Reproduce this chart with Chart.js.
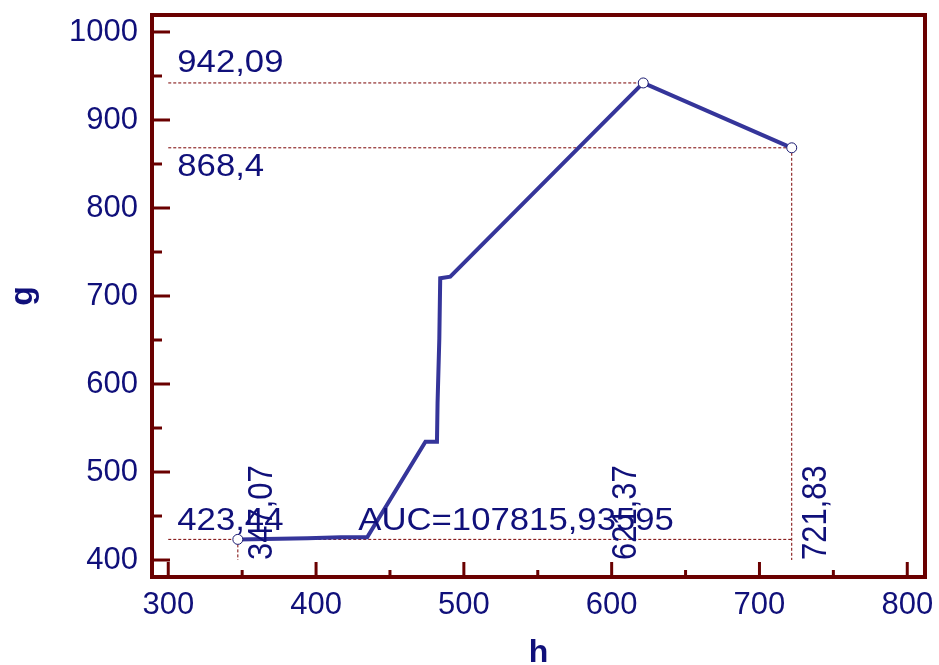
<!DOCTYPE html>
<html>
<head>
<meta charset="utf-8">
<script src="https://cdn.jsdelivr.net/npm/chart.js@4/dist/chart.umd.min.js"></script>
<style>
  html, body { margin: 0; padding: 0; background: #fff; }
  #wrap { width: 939px; height: 665px; }
</style>
</head>
<body>
<div id="wrap"><canvas id="chart" width="939" height="665"></canvas></div>
<script>
// curve (h -> g)
const hValues = [347.07, 394.2, 416.7, 434.6, 474.0, 481.8, 482.2, 483.4, 484.0, 490.8, 621.37, 721.83];
const gValues = [423.44, 424.7, 425.8, 425.8, 534.4, 534.4, 578.1, 651.9, 720.1, 721.9, 942.09, 868.4];

// marked points (start, max, end)
const markH = [347.07, 621.37, 721.83];
const markG = [423.44, 942.09, 868.4];
const markHLabels = ['347,07', '621,37', '721,83'];
const markGLabels = ['423,44', '942,09', '868,4'];
const aucLabel = 'AUC=107815,93595';

// axis ticks
const xTicks = [300, 400, 500, 600, 700, 800];
const yTicks = [400, 500, 600, 700, 800, 900, 1000];

const navy = '#10107a';
const lineBlue = '#35359a';
const maroon = '#6a0000';
const dotRed = '#7a0000';
const fontFamily = "'Liberation Sans', Arial, sans-serif";

const pts = (xs, ys) => xs.map((x, i) => ({ x: x, y: ys[i] }));

// dotted guide lines from the first major ticks to the marked points
const guideStyle = {
    borderColor: dotRed,
    borderWidth: 1,
    borderDash: [3, 2],
    pointRadius: 0,
    showLine: true,
    order: 3
};
const guides = [
    pts([xTicks[0], markH[1]], [markG[1], markG[1]]),
    pts([xTicks[0], markH[2]], [markG[2], markG[2]]),
    pts([xTicks[0], markH[2]], [markG[0], markG[0]]),
    pts([markH[2], markH[2]], [markG[2], yTicks[0]]),
    pts([markH[0], markH[0]], [markG[0], yTicks[0]])
].map(d => Object.assign({ data: d }, guideStyle));

// text in the source image is a little wider than the font
const stretch = 1.12;
const label = (ctx, text, px, py, rotate) => {
    ctx.save();
    ctx.translate(px, py);
    ctx.scale(stretch, 1);
    if (rotate) ctx.rotate(-Math.PI / 2);
    ctx.fillText(text, 0, 0);
    ctx.restore();
};

// box, inward tick marks and value labels
const decor = {
    id: 'decor',
    afterDatasetsDraw(chart) {
        const { ctx, chartArea: a, scales: { x, y } } = chart;
        ctx.save();
        ctx.strokeStyle = maroon;
        ctx.lineWidth = 3;
        yTicks.forEach((v, i) => {
            const py = y.getPixelForValue(v);
            ctx.beginPath(); ctx.moveTo(a.left, py); ctx.lineTo(a.left + 18, py); ctx.stroke();
            if (i < yTicks.length - 1) {
                const my = y.getPixelForValue((v + yTicks[i + 1]) / 2);
                ctx.beginPath(); ctx.moveTo(a.left, my); ctx.lineTo(a.left + 10, my); ctx.stroke();
            }
        });
        xTicks.forEach((v, i) => {
            const px = x.getPixelForValue(v);
            ctx.beginPath(); ctx.moveTo(px, a.bottom); ctx.lineTo(px, a.bottom - 15); ctx.stroke();
            if (i < xTicks.length - 1) {
                const mx = x.getPixelForValue((v + xTicks[i + 1]) / 2);
                ctx.beginPath(); ctx.moveTo(mx, a.bottom); ctx.lineTo(mx, a.bottom - 7); ctx.stroke();
            }
        });
        ctx.lineWidth = 4;
        ctx.strokeRect(a.left, a.top, a.right - a.left, a.bottom - a.top);

        ctx.fillStyle = navy;
        ctx.font = '31px ' + fontFamily;
        ctx.textAlign = 'left';
        ctx.textBaseline = 'alphabetic';
        const lx = x.getPixelForValue(xTicks[0]) + 9;
        label(ctx, markGLabels[1], lx, y.getPixelForValue(markG[1]) - 11);
        label(ctx, markGLabels[2], lx, y.getPixelForValue(markG[2]) + 28);
        label(ctx, markGLabels[0], lx, y.getPixelForValue(markG[0]) - 9);
        label(ctx, aucLabel, x.getPixelForValue(xTicks[0]) + 190, y.getPixelForValue(markG[0]) - 9);

        const offs = [34, -7, 34];
        const by = y.getPixelForValue(yTicks[0]);
        markH.forEach((v, i) => {
            label(ctx, markHLabels[i], x.getPixelForValue(v) + offs[i], by, true);
        });
        ctx.restore();
    }
};

new Chart(document.getElementById('chart'), {
    type: 'scatter',
    data: {
        datasets: [
            {
                data: pts(hValues, gValues),
                showLine: true,
                borderColor: lineBlue,
                borderWidth: 4,
                pointRadius: 0,
                tension: 0,
                order: 2
            },
            ...guides,
            {
                data: pts(markH, markG),
                pointRadius: 5,
                pointBackgroundColor: '#ffffff',
                pointBorderColor: '#1a1a70',
                pointBorderWidth: 1,
                order: 1
            }
        ]
    },
    options: {
        responsive: false,
        animation: false,
        layout: { padding: { top: 15, right: 14, left: 0, bottom: 0 } },
        plugins: {
            legend: { display: false },
            tooltip: { enabled: false }
        },
        scales: {
            x: {
                type: 'linear',
                min: 289,
                max: 812,
                afterBuildTicks: s => { s.ticks = xTicks.map(v => ({ value: v })); },
                afterFit: s => { s.height = 88; s.paddingLeft = 0; s.paddingRight = 0; },
                grid: { display: false, drawTicks: false },
                border: { display: false },
                ticks: {
                    color: navy,
                    padding: 10,
                    maxRotation: 0,
                    callback: v => String(v),
                    font: { family: fontFamily, size: 31 }
                },
                title: {
                    display: true,
                    text: 'h',
                    color: navy,
                    padding: { top: 0, bottom: 0 },
                    font: { family: fontFamily, size: 32, weight: 'bold', lineHeight: 0.75 }
                }
            },
            y: {
                type: 'linear',
                min: 380.7,
                max: 1019.3,
                afterBuildTicks: s => { s.ticks = yTicks.map(v => ({ value: v })); },
                afterFit: s => { s.width = 152; s.paddingTop = 0; s.paddingBottom = 0; },
                grid: { display: false, drawTicks: false },
                border: { display: false },
                ticks: {
                    color: navy,
                    padding: 14,
                    callback: v => String(v),
                    font: { family: fontFamily, size: 31 }
                },
                title: {
                    display: true,
                    text: 'g',
                    color: navy,
                    padding: { top: 11, bottom: 0 },
                    font: { family: fontFamily, size: 32, weight: 'bold', lineHeight: 0.75 }
                }
            }
        }
    },
    plugins: [decor]
});
</script>
</body>
</html>
